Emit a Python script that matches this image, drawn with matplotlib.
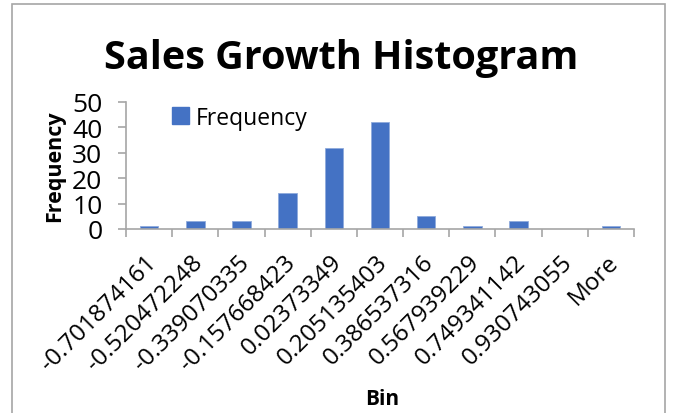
import numpy as np
import matplotlib.pyplot as plt
from matplotlib.patches import Rectangle, Patch

# Datos del histograma
bins = ['-0.701874161', '-0.520472248', '-0.339070335', '-0.157668423',
        '0.02373349', '0.205135403', '0.386537316', '0.567939229',
        '0.749341142', '0.930743055', 'More']
frequency = [1, 3, 3, 14, 32, 42, 5, 1, 3, 0, 1]

plt.rcParams['font.family'] = ['Open Sans', 'DejaVu Sans']
gray = '#A6A6A6'
blue = '#4472C4'

fig = plt.figure(figsize=(6.73, 4.14), dpi=100)
ax = fig.add_axes([126 / 673, 1 - 230 / 414, 508 / 673, 127.3 / 414])

# Marco del gráfico
fig.patches.append(Rectangle((12 / 673, -0.1), 653 / 673, 1.1 - 5 / 414,
                             transform=fig.transFigure, fill=False,
                             edgecolor=gray, linewidth=1.2))

x = np.arange(len(bins))
ax.bar(x, frequency, width=0.4, color=blue, edgecolor='#8FAADC', linewidth=0.6)

ax.set_xlim(-0.5, len(bins) - 0.5)
ax.set_ylim(0, 50)
ax.set_yticks([0, 10, 20, 30, 40, 50])
ax.tick_params(axis='y', labelsize=19, length=6, color=gray, width=1.2, pad=11)

# Ticks en los límites de categoría
ax.set_xticks(np.arange(len(bins) + 1) - 0.5)
ax.set_xticklabels([])
ax.tick_params(axis='x', length=6, color=gray, width=1.2)
for i, lab in enumerate(bins):
    ax.annotate(lab, xy=(i, 0), xycoords=('data', 'axes fraction'),
                xytext=(3, -21), textcoords='offset points',
                rotation=45, rotation_mode='anchor', ha='right', va='center',
                fontsize=17.5)

for s in ['top', 'right']:
    ax.spines[s].set_visible(False)
for s in ['left', 'bottom']:
    ax.spines[s].set_color(gray)
    ax.spines[s].set_linewidth(1.2)

ax.set_ylabel('Frequency', fontsize=15.5, fontweight='bold', labelpad=5)
fig.text(382 / 673, 1 - 400 / 414, 'Bin', ha='center', va='center',
         fontsize=15, fontweight='bold')
fig.text(341 / 673, 1 - 58 / 414, 'Sales Growth Histogram', ha='center',
         va='center', fontsize=28.5, fontweight='bold')

ax.legend(handles=[Patch(color=blue, label='Frequency')], loc='upper left',
          bbox_to_anchor=(0.05, 1.13), frameon=False, fontsize=16.5,
          handlelength=0.75, handleheight=0.75, handletextpad=0.3)

fig.savefig('out.png', dpi=100)
